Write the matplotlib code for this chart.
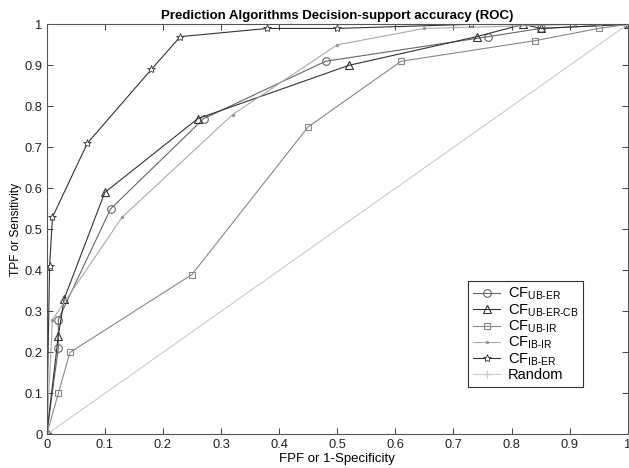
import matplotlib
matplotlib.use("Agg")
import matplotlib.pyplot as plt

plt.rcParams['font.family'] = ['Liberation Sans', 'DejaVu Sans']
plt.rcParams['mathtext.fontset'] = 'custom'
plt.rcParams['mathtext.rm'] = 'Liberation Sans'
plt.rcParams['mathtext.default'] = 'regular'

title = "Prediction Algorithms Decision-support accuracy (ROC)"
xlabel = "FPF or 1-Specificity"
ylabel = "TPF or Sensitivity"

ub_er_x = [0, 0.02, 0.02, 0.11, 0.27, 0.48, 0.76, 0.85, 1.0]
ub_er_y = [0, 0.21, 0.28, 0.55, 0.77, 0.91, 0.97, 0.99, 1.0]

ub_er_cb_x = [0, 0.02, 0.03, 0.10, 0.26, 0.52, 0.74, 0.82, 0.85, 1.0]
ub_er_cb_y = [0, 0.24, 0.33, 0.59, 0.77, 0.90, 0.97, 1.0, 0.99, 1.0]

ub_ir_x = [0, 0.02, 0.04, 0.25, 0.45, 0.61, 0.84, 0.95, 1.0]
ub_ir_y = [0, 0.10, 0.20, 0.39, 0.75, 0.91, 0.96, 0.99, 1.0]

ib_ir_x = [0, 0.01, 0.13, 0.32, 0.50, 0.65, 0.91, 1.0]
ib_ir_y = [0, 0.28, 0.53, 0.78, 0.95, 0.99, 1.0, 1.0]

ib_er_x = [0, 0.005, 0.01, 0.07, 0.18, 0.23, 0.38, 0.50, 0.73, 1.0]
ib_er_y = [0, 0.41, 0.53, 0.71, 0.89, 0.97, 0.99, 0.99, 1.0, 1.0]

rand_x = [0, 1]
rand_y = [0, 1]

H = "\u2010"
labels = ["CF$_{UB" + H + "ER}$", "CF$_{UB" + H + "ER" + H + "CB}$", "CF$_{UB" + H + "IR}$",
          "CF$_{IB" + H + "IR}$", "CF$_{IB" + H + "ER}$", "Random"]
tick_labels = ["0", "0.1", "0.2", "0.3", "0.4", "0.5", "0.6", "0.7", "0.8", "0.9", "1"]
tick_vals = [i / 10 for i in range(11)]

fig = plt.figure(figsize=(6.29, 4.68), dpi=100)
ax = fig.add_axes([0.0742, 0.0716, 0.9238, 0.8764])

lw = 0.8
ax.plot(ub_er_x, ub_er_y, color='#666666', lw=lw, marker='o', ms=5.5, mfc='none', mec='#666666', mew=0.8, label=labels[0])
ax.plot(ub_er_cb_x, ub_er_cb_y, color='#333333', lw=lw, marker='^', ms=5.5, mfc='none', mec='#333333', mew=0.8, label=labels[1])
ax.plot(ub_ir_x, ub_ir_y, color='#888888', lw=lw, marker='s', ms=4.5, mfc='none', mec='#888888', mew=0.8, label=labels[2])
ax.plot(ib_ir_x, ib_ir_y, color='#aaaaaa', lw=lw, marker='.', ms=3, mfc='#999999', mec='#999999', label=labels[3])
ax.plot(ib_er_x, ib_er_y, color='#333333', lw=lw, marker='*', ms=6, mfc='white', mec='#333333', mew=0.6, label=labels[4])
ax.plot(rand_x, rand_y, color='#cccccc', lw=lw, marker='+', ms=6, mec='#cccccc', label=labels[5])

ax.set_xlim(0, 1)
ax.set_ylim(0, 1)
ax.set_xticks(tick_vals)
ax.set_yticks(tick_vals)
ax.set_xticklabels(tick_labels)
ax.set_yticklabels(tick_labels)
ax.tick_params(direction='in', top=True, right=True, length=4, width=0.6, labelsize=9.3, pad=3, colors='#222222')
for s in ax.spines.values():
    s.set_color('#555555')
    s.set_linewidth(0.8)

ax.set_title(title, fontsize=9.5, fontweight='bold', pad=4)
ax.set_xlabel(xlabel, fontsize=9.5, labelpad=2)
ax.set_ylabel(ylabel, fontsize=8.6, labelpad=2)

leg = ax.legend(loc='upper left', bbox_to_anchor=(468.3 / 629, 1 - 280.7 / 468), bbox_transform=fig.transFigure,
                fontsize=10.5, frameon=True, fancybox=False, framealpha=1, edgecolor='#333333',
                handlelength=1.8, handletextpad=0.55, labelspacing=0.0, borderpad=0.35, borderaxespad=0)
leg.get_frame().set_linewidth(0.8)

fig.savefig("out.png", dpi=100)
